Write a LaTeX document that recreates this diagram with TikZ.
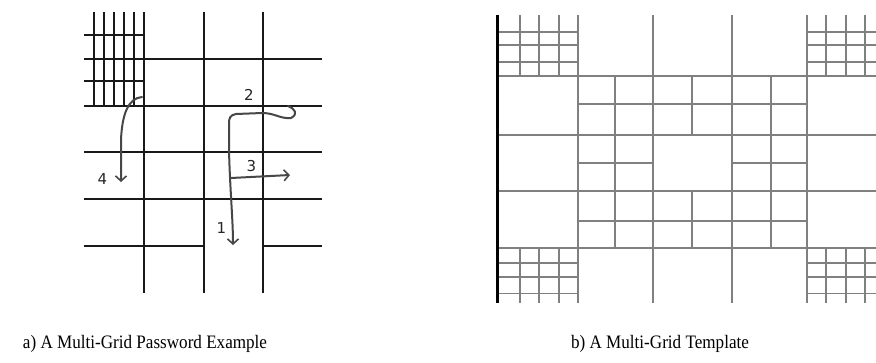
\documentclass[tikz,border=0pt]{standalone}
\usepackage{fontspec}
\setmainfont{Liberation Serif}
\newfontfamily\labfont{DejaVu Sans}
\usetikzlibrary{arrows.meta}
\begin{document}
\begin{tikzpicture}[x=1pt,y=-1pt,
  bl/.style={line width=1.7pt, black!90},
  gl/.style={line width=1.6pt, black!50},
  pen/.style={line width=2pt, black!72, line cap=round, line join=round},
  tip/.style={-{Straight Barb[length=5pt,width=11pt,line width=1.6pt]}},
  lab/.style={font=\labfont\fontsize{15}{15}\selectfont, inner sep=0pt, text=black!85},
  captext/.style={font=\fontsize{19}{19}\selectfont, inner sep=0pt, anchor=base, xscale=0.9}]
\useasboundingbox (0,0) rectangle (876,362);
\fill[white] (0,0) rectangle (876,362);
% ---- left grid
\foreach \x in {94,104,114,124,134} \draw[bl] (\x,12) -- (\x,106);
\foreach \x in {144,204,263} \draw[bl] (\x,12) -- (\x,293);
\foreach \y in {35,81} \draw[bl] (84,\y) -- (144,\y);
\foreach \y in {59,106,152,199} \draw[bl] (84,\y) -- (322,\y);
\draw[bl] (84,246) -- (204,246) (263,246) -- (322,246);
% ---- strokes
\coordinate (s2) at (288,106);
\coordinate (e1) at (233,245);
\coordinate (b3) at (231,178);
\coordinate (e3) at (290,175);
\coordinate (s4) at (142,97);
\coordinate (e4) at (121,182);
\draw[pen,tip] (s2) .. controls (294,108) and (299,114) .. (291,118) .. controls (280,119) and (275,113) .. (262,113) -- (236,114) .. controls (230,115) and (229,118) .. (229,124) -- (229,150) .. controls (230,190) and (233,220) .. (e1);
\draw[pen,tip] (b3) -- (e3);
\draw[pen,tip] (s4) .. controls (128,98) and (122,115) .. (121,140) -- (e4);
\node[lab] (n2) at (249,95) {2};
\node[lab] (n3) at (251.5,166) {3};
\node[lab] (n1) at (221.5,228) {1};
\node[lab] (n4) at (102.5,179) {4};
% ---- right grid
\foreach \x in {520,539,559,826,846,865} \draw[gl] (\x,15) -- (\x,76) (\x,248) -- (\x,303);
\foreach \x in {578,653,732,807} \draw[gl] (\x,15) -- (\x,303);
\foreach \x in {615,771} \draw[gl] (\x,76) -- (\x,248);
\draw[gl] (692,76) -- (692,135) (692,191) -- (692,248);
\foreach \y in {31.7,45,61.7,263,277,293.5} \draw[gl] (497,\y) -- (578,\y) (807,\y) -- (876,\y);
\foreach \y in {76,135,191,248} \draw[gl] (497,\y) -- (876,\y);
\foreach \y in {104,221} \draw[gl] (578,\y) -- (807,\y);
\draw[gl] (578,163) -- (653,163) (732,163) -- (807,163);
\draw[line width=3pt] (497,15) -- (497,303);
% ---- captions
\node[captext] (ca) at (145,348) {a) A Multi-Grid Password Example};
\node[captext] (cb) at (660,348) {b) A Multi-Grid Template};
\end{tikzpicture}
\end{document}
